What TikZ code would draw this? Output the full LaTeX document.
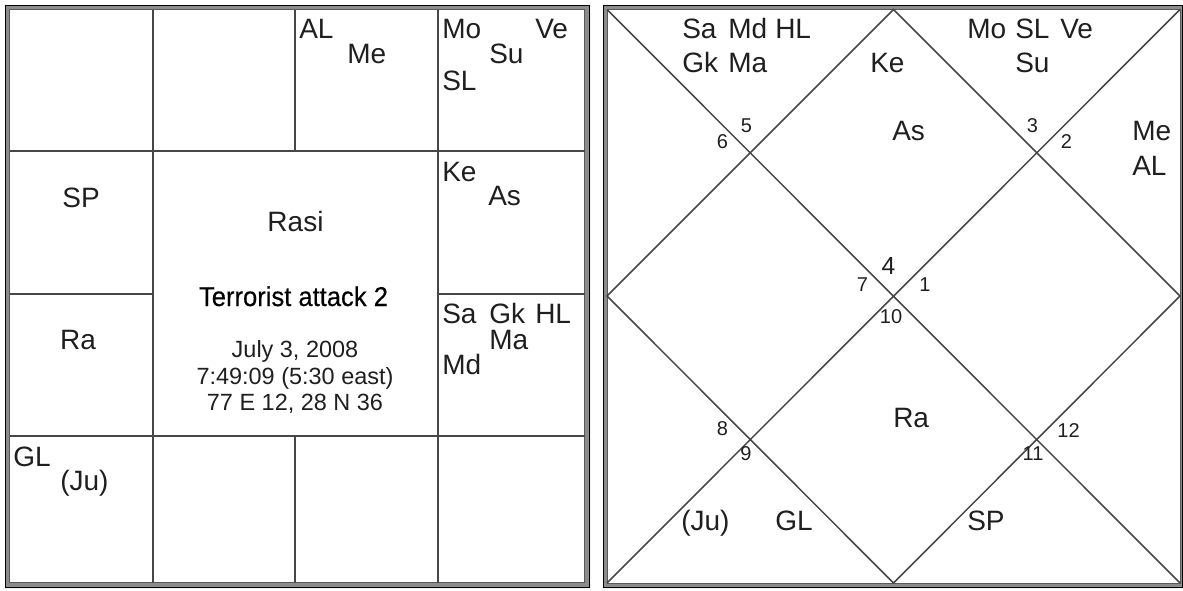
\documentclass[tikz,border=0pt]{standalone}
\usepackage{fontspec}
\setmainfont{Liberation Sans}
\newfontfamily\titlefam[FakeBold=0.4,FakeStretch=0.94]{Liberation Sans}
\newcommand{\plf}{\fontsize{21pt}{25pt}\selectfont}
\newcommand{\numf}{\fontsize{15pt}{18pt}\selectfont}
\newcommand{\bignumf}{\fontsize{18.5pt}{22pt}\selectfont}
\newcommand{\titlef}{\titlefam\fontsize{20.4pt}{24pt}\selectfont}
\newcommand{\infof}{\fontsize{17.6pt}{21pt}\selectfont}
\tikzset{
  pl/.style={font=\plf, anchor=base west, inner sep=0pt, text=black!88},
  plc/.style={font=\plf, anchor=base, inner sep=0pt, text=black!88},
  num/.style={font=\numf, anchor=base, inner sep=0pt, text=black!88},
  grid line/.style={draw=black!72, line width=1.15pt},
  band/.style={fill=black!45, even odd rule},
  outer line/.style={draw=black, line width=1.1pt},
  inner line/.style={draw=black!65, line width=0.6pt}
}
\begin{document}
\begin{tikzpicture}[x=0.75pt,y=-0.75pt]
\useasboundingbox (0,0) rectangle (1183,590);
% ---------- left chart frame ----------
\fill[band] (5,5) rectangle (590,588) (9.5,9.5) rectangle (584.5,582.5);
\draw[outer line] (5.5,5.5) rectangle (589.5,587.5);
\draw[inner line] (9.5,9.5) rectangle (584.5,582.5);
% grid
\coordinate (a1) at (153,9.5);   \coordinate (a2) at (153,582.5);
\coordinate (b1) at (438,9.5);   \coordinate (b2) at (438,582.5);
\coordinate (c1) at (295,9.5);   \coordinate (c2) at (295,151);
\coordinate (c3) at (295,436);   \coordinate (c4) at (295,582.5);
\coordinate (h1) at (9.5,151);   \coordinate (h2) at (584.5,151);
\coordinate (h3) at (9.5,436);   \coordinate (h4) at (584.5,436);
\coordinate (m1) at (9.5,294);   \coordinate (m2) at (153,294);
\coordinate (m3) at (438,294);   \coordinate (m4) at (584.5,294);
\draw[grid line] (a1) -- (a2) (b1) -- (b2) (c1) -- (c2) (c3) -- (c4)
  (h1) -- (h2) (h3) -- (h4) (m1) -- (m2) (m3) -- (m4);
% labels
\node[pl] (lAL) at (299,38) {AL};
\node[pl] (lMe) at (347,63) {Me};
\node[pl] (lMo) at (442,38) {Mo};
\node[pl] (lSu) at (489,63) {Su};
\node[pl] (lVe) at (535,38) {Ve};
\node[pl] (lSL) at (442,90) {SL};
\node[pl] (lKe) at (442,181) {Ke};
\node[pl] (lAs) at (488,205) {As};
\node[pl] (lSa) at (442,323) {Sa};
\node[pl] (lGk) at (489,323) {Gk};
\node[pl] (lHL) at (535,323) {HL};
\node[pl] (lMa) at (489,349) {Ma};
\node[pl] (lMd) at (442,374) {Md};
\node[plc] (lSP) at (81,207) {SP};
\node[plc] (lRa) at (78,349) {Ra};
\node[pl] (lGL) at (13,466) {GL};
\node[pl] (lJu) at (60,490) {(Ju)};
\node[plc] (rasi) at (295.5,231) {Rasi};
\node[font=\titlef, anchor=base, inner sep=0pt, text=black] (title) at (293.5,306) {Terrorist attack 2};
\node[font=\infof, anchor=base, inner sep=0pt, text=black!88] (i1) at (295,357) {July 3, 2008};
\node[font=\infof, anchor=base, inner sep=0pt, text=black!88] (i2) at (295,384) {7:49:09 (5:30 east)};
\node[font=\infof, anchor=base, inner sep=0pt, text=black!88] (i3) at (295,410) {77 E 12, 28 N 36};
% ---------- right chart frame ----------
\fill[band] (603,5) rectangle (1183,588) (607,9.5) rectangle (1180,583);
\draw[outer line] (603.5,5.5) rectangle (1182.5,587.5);
\draw[inner line] (607,9.5) rectangle (1180,583);
\coordinate (TL) at (607,9.5);   \coordinate (TR) at (1180,9.5);
\coordinate (BL) at (607,583);   \coordinate (BR) at (1180,583);
\coordinate (TM) at (893.5,9.5); \coordinate (BM) at (893.5,583);
\coordinate (LM) at (607,296);   \coordinate (RM) at (1180,296);
\draw[grid line] (TL) -- (BR) (TR) -- (BL)
  (TM) -- (RM) -- (BM) -- (LM) -- cycle;
% labels
\node[pl] (rSa) at (682,38) {Sa};
\node[pl] (rMd) at (728,38) {Md};
\node[pl] (rHL) at (775,38) {HL};
\node[pl] (rGk) at (682,72) {Gk};
\node[pl] (rMa) at (728,72) {Ma};
\node[pl] (rKe) at (870,72) {Ke};
\node[pl] (rAs) at (892,140) {As};
\node[pl] (rMo) at (967,38) {Mo};
\node[pl] (rSL) at (1015,38) {SL};
\node[pl] (rVe) at (1060,38) {Ve};
\node[pl] (rSu) at (1015,72) {Su};
\node[pl] (rMe) at (1132,140) {Me};
\node[pl] (rAL) at (1132,175) {AL};
\node[pl] (rRa) at (893,427) {Ra};
\node[pl] (rJu) at (681,530) {(Ju)};
\node[pl] (rGL) at (775,530) {GL};
\node[pl] (rSP) at (967,530) {SP};
% house numbers
\node[num] (n6) at (722.5,148) {6};
\node[num] (n5) at (746.5,132) {5};
\node[num] (n3) at (1032.5,132) {3};
\node[num] (n2) at (1066.5,148) {2};
\node[font=\bignumf, anchor=base, inner sep=0pt, text=black!88] (n4) at (888.5,274) {4};
\node[num] (n7) at (862.5,291) {7};
\node[num] (n1) at (925,291) {1};
\node[num] (n10) at (891,323) {10};
\node[num] (n8) at (722.5,435) {8};
\node[num] (n9) at (746,460) {9};
\node[num] (n12) at (1068.5,437) {12};
\node[num] (n11) at (1033,460) {11};
\end{tikzpicture}
\end{document}
